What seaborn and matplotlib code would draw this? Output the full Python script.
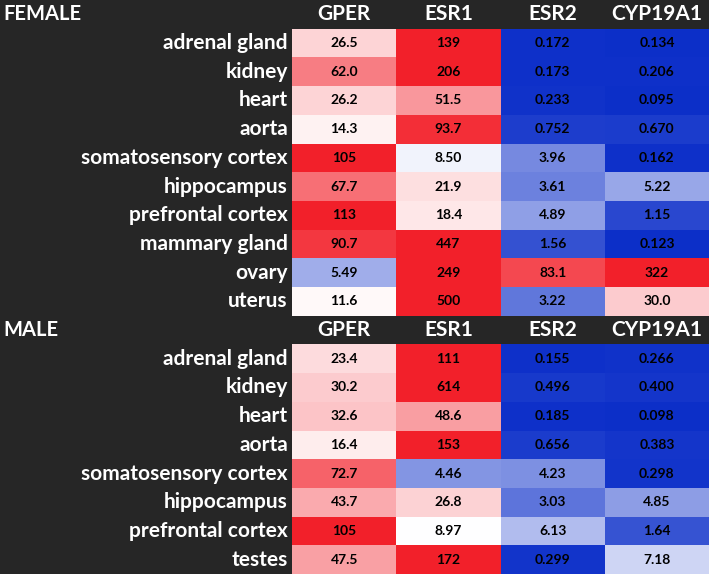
import numpy as np
import pandas as pd
import matplotlib
matplotlib.use("Agg")
import matplotlib.pyplot as plt
import seaborn as sns
from matplotlib.colors import LinearSegmentedColormap

# --- datos ---
genes = ["GPER", "ESR1", "ESR2", "CYP19A1"]

female_tissues = ["adrenal gland", "kidney", "heart", "aorta", "somatosensory cortex",
                  "hippocampus", "prefrontal cortex", "mammary gland", "ovary", "uterus"]
female_gper = [26.5, 62.0, 26.2, 14.3, 105, 67.7, 113, 90.7, 5.49, 11.6]
female_esr1 = [139, 206, 51.5, 93.7, 8.50, 21.9, 18.4, 447, 249, 500]
female_esr2 = [0.172, 0.173, 0.233, 0.752, 3.96, 3.61, 4.89, 1.56, 83.1, 3.22]
female_cyp19a1 = [0.134, 0.206, 0.095, 0.670, 0.162, 5.22, 1.15, 0.123, 322, 30.0]

male_tissues = ["adrenal gland", "kidney", "heart", "aorta", "somatosensory cortex",
                "hippocampus", "prefrontal cortex", "testes"]
male_gper = [23.4, 30.2, 32.6, 16.4, 72.7, 43.7, 105, 47.5]
male_esr1 = [111, 614, 48.6, 153, 4.46, 26.8, 8.97, 172]
male_esr2 = [0.155, 0.496, 0.185, 0.656, 4.23, 3.03, 6.13, 0.299]
male_cyp19a1 = [0.266, 0.400, 0.098, 0.383, 0.298, 4.85, 1.64, 7.18]

BG = "#262626"
# escala de color de 3 puntos (estilo Excel): 0 -> azul, 9 -> blanco, >=100 -> rojo
MID = 9.0
TOP = 100.0


def fmt_val(v):
    if v < 1:
        return f"{v:.3f}"
    if v >= 100:
        return f"{v:.0f}"
    return f"{v:#.3g}"


# tabla combinada: fila cabecera (vacía) + hembras + cabecera + machos
female = pd.DataFrame({"GPER": female_gper, "ESR1": female_esr1,
                       "ESR2": female_esr2, "CYP19A1": female_cyp19a1})
male = pd.DataFrame({"GPER": male_gper, "ESR1": male_esr1,
                     "ESR2": male_esr2, "CYP19A1": male_cyp19a1})
blank = pd.DataFrame([[np.nan] * 4], columns=genes)
df = pd.concat([blank, female, blank, male], ignore_index=True)
row_labels = [""] + female_tissues + [""] + male_tissues

vals = df.values.astype(float)
scaled = np.where(vals <= MID, (vals - MID) / MID, (vals - MID) / (TOP - MID))
scaled = np.clip(scaled, -1, 1)
annot = np.array([[fmt_val(v) if not np.isnan(v) else "" for v in row] for row in vals])

cmap = LinearSegmentedColormap.from_list("bwr_custom", ["#0a2dc8", "#ffffff", "#f2202a"])

fig = plt.figure(figsize=(7.09, 5.74), dpi=100, facecolor=BG)
ax = fig.add_axes([292 / 709, 0, 1 - 292 / 709, 1])
ax.set_facecolor(BG)

sns.heatmap(scaled, ax=ax, cmap=cmap, vmin=-1, vmax=1, center=0,
            mask=np.isnan(vals), annot=annot, fmt="", cbar=False,
            annot_kws={"fontsize": 10, "fontweight": "bold", "color": "black",
                       "family": "Lato"})

ax.set_xticks([])
ax.set_yticks(np.arange(len(row_labels)) + 0.5)
ax.set_yticklabels(row_labels, color="white", fontsize=15, fontweight="bold",
                   family="Lato", rotation=0)
ax.tick_params(axis="y", length=0, pad=3)
for s in ax.spines.values():
    s.set_visible(False)

# cabeceras
for r, sex in [(0, "FEMALE"), (len(female_tissues) + 1, "MALE")]:
    fig.text(3 / 709, 1 - (r + 0.5) / len(row_labels), sex, color="white",
             fontsize=14.5, fontweight="bold", family="Lato", va="center", ha="left")
    for j, g in enumerate(genes):
        ax.text(j + 0.5, r + 0.5, g, color="white", fontsize=15, fontweight="bold",
                family="Lato", ha="center", va="center")

fig.savefig("out.png", dpi=100, facecolor=BG)
